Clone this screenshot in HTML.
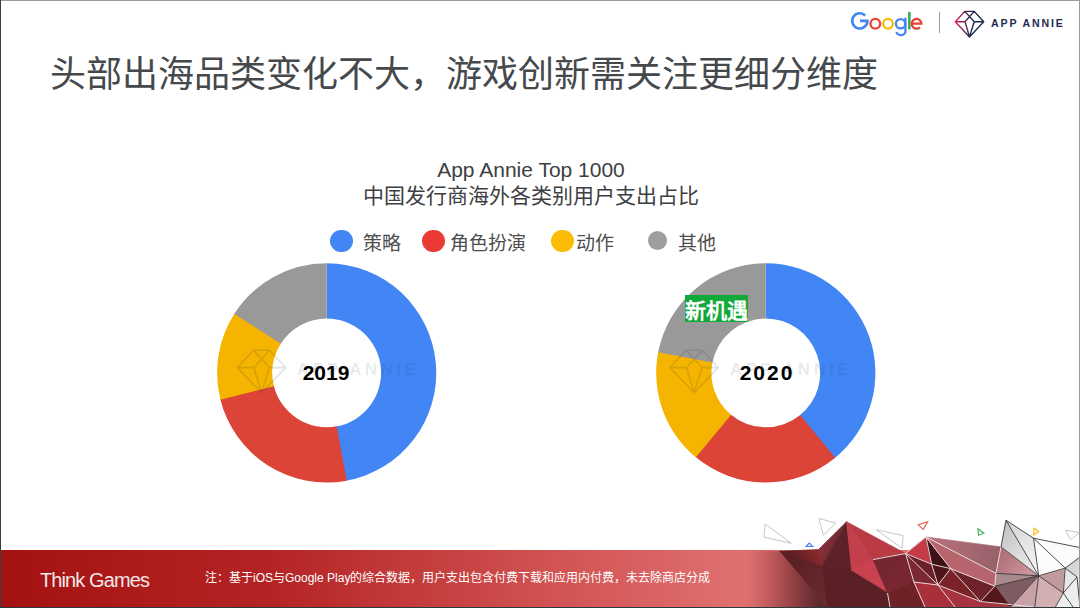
<!DOCTYPE html>
<html lang="zh-CN"><head><meta charset="utf-8">
<style>
*{margin:0;padding:0;box-sizing:border-box}
html,body{width:1080px;height:608px;overflow:hidden;background:#fff}
body{position:relative;font-family:"Liberation Sans",sans-serif}
.abs{position:absolute;white-space:nowrap}
#title{left:50px;top:52.5px;font-size:36px;color:#46494c;line-height:44px}
#ct1{left:0;width:1062px;top:158px;text-align:center;font-size:21px;color:#3c4043;line-height:24px}
#ct2{left:0;width:1062px;top:183px;text-align:center;font-size:21px;color:#3c4043;line-height:26px}
.dot{position:absolute;border-radius:50%}
.lg{position:absolute;font-family:"Liberation Serif",serif;font-size:19px;color:#4d4d4d;line-height:22px;top:233px}
.yr{position:absolute;font-weight:bold;font-size:21px;color:#000;line-height:24px;width:100px;text-align:center}
.wm{position:absolute;font-weight:bold;font-size:16.5px;letter-spacing:3.7px;color:rgba(30,40,70,0.11);line-height:20px}
#footer{position:absolute;left:0;top:550px;width:1080px;height:58px;background:linear-gradient(90deg,#a41111 0%,#b52424 25%,#d25454 52%,#e07070 68.5%,#e07070 100%)}
#tg{left:40px;top:568.3px;font-size:20px;color:#f3e6e6;line-height:24px;letter-spacing:-0.9px}
#note{left:205px;top:569.5px;font-size:12px;color:#fff;line-height:16px}
#gl{left:0;top:0}
#aa{left:991px;top:16.8px;font-size:10.6px;font-weight:bold;color:#1e2c50;letter-spacing:1.85px;line-height:12px}
</style></head><body>

<div id="title" class="abs">头部出海品类变化不大，游戏创新需关注更细分维度</div>

<svg class="abs" id="gl" width="1080" height="50">
<defs><linearGradient id="dg" x1="0" x2="1" y1="0" y2="0"><stop offset="0" stop-color="#ea1e63"/><stop offset="0.55" stop-color="#1e2a52"/><stop offset="1" stop-color="#1b2a4e"/></linearGradient></defs>
<path d="M865.2 15.5A7.6 7.6 0 1 0 867.4 20.9H860" fill="none" stroke="#4285f4" stroke-width="2.6"/>
<circle cx="875.3" cy="23.75" r="4.85" fill="none" stroke="#ea4335" stroke-width="2.3"/>
<circle cx="888" cy="23.75" r="4.85" fill="none" stroke="#fbbc05" stroke-width="2.3"/>
<circle cx="900.6" cy="23.75" r="4.7" fill="none" stroke="#4285f4" stroke-width="2.3"/>
<path d="M905.4 17.8V29.9A4.6 4.2 0 0 1 896.4 32" fill="none" stroke="#4285f4" stroke-width="2.3"/>
<rect x="908.1" y="11.9" width="2.5" height="17.5" fill="#34a853"/>
<path d="M911.9 23.6H921.4A4.85 4.85 0 1 0 919.9 27.3" fill="none" stroke="#ea4335" stroke-width="2.3"/>
<rect x="939" y="12" width="1" height="21" fill="#9a9a9a"/>
<path d="M964.76 11.40L974.24 11.40L983.70 21.80L969.50 36.90L955.30 21.80Z M955.30 21.80L965.04 21.80 M974.24 21.80L983.70 21.80 M964.76 11.40L974.24 21.80L969.50 36.90 M974.24 11.40L965.04 21.80L969.50 36.90" fill="none" stroke="url(#dg)" stroke-width="1.4" stroke-linejoin="round" />
</svg>
<div id="aa" class="abs">APP ANNIE</div>

<div id="ct1" class="abs">App Annie Top 1000</div>
<div id="ct2" class="abs">中国发行商海外各类别用户支出占比</div>

<div class="dot" style="left:330px;top:229.5px;width:22.5px;height:22.5px;background:#4285f4"></div>
<div class="lg" style="left:363px">策略</div>
<div class="dot" style="left:422px;top:229.5px;width:22.5px;height:22.5px;background:#ea3a36"></div>
<div class="lg" style="left:450px">角色扮演</div>
<div class="dot" style="left:551px;top:229.5px;width:22.5px;height:22.5px;background:#fbbc05"></div>
<div class="lg" style="left:576px">动作</div>
<div class="dot" style="left:648px;top:231px;width:19px;height:19px;background:#9e9e9e"></div>
<div class="lg" style="left:678px">其他</div>

<svg class="abs" style="left:0;top:0" width="1080" height="608">
<path d="M326.70 263.30A109.6 109.6 0 0 1 345.73 480.83L336.15 426.47A54.4 54.4 0 0 0 326.70 318.50Z" fill="#4285f4"/>
<path d="M346.86 480.63A109.6 109.6 0 0 1 220.17 398.67L273.83 385.69A54.4 54.4 0 0 0 336.71 426.37Z" fill="#db4437"/>
<path d="M220.45 399.79A109.6 109.6 0 0 1 234.89 313.05L281.13 343.19A54.4 54.4 0 0 0 273.96 386.24Z" fill="#f4b400"/>
<path d="M234.26 314.01A109.6 109.6 0 0 1 326.70 263.30L326.70 318.50A54.4 54.4 0 0 0 280.82 343.67Z" fill="#999999"/>
<path d="M765.80 263.30A109.6 109.6 0 0 1 834.33 458.44L799.81 415.36A54.4 54.4 0 0 0 765.80 318.50Z" fill="#4285f4"/>
<path d="M835.22 457.71A109.6 109.6 0 0 1 695.06 456.61L730.69 414.45A54.4 54.4 0 0 0 800.26 415.00Z" fill="#db4437"/>
<path d="M695.94 457.35A109.6 109.6 0 0 1 658.40 351.05L712.49 362.05A54.4 54.4 0 0 0 731.12 414.82Z" fill="#f4b400"/>
<path d="M658.18 352.18A109.6 109.6 0 0 1 765.80 263.30L765.80 318.50A54.4 54.4 0 0 0 712.38 362.61Z" fill="#999999"/>
<path d="M253.45 350.20L269.55 350.20L285.60 367.58L261.50 392.80L237.40 367.58Z M237.40 367.58L253.93 367.58 M269.55 367.58L285.60 367.58 M253.45 350.20L269.55 367.58L261.50 392.80 M269.55 350.20L253.93 367.58L261.50 392.80" fill="none" stroke="rgba(30,40,70,0.13)" stroke-width="1.6" stroke-linejoin="round" />
<path d="M686.05 350.20L702.15 350.20L718.20 367.58L694.10 392.80L670.00 367.58Z M670.00 367.58L686.53 367.58 M702.15 367.58L718.20 367.58 M686.05 350.20L702.15 367.58L694.10 392.80 M702.15 350.20L686.53 367.58L694.10 392.80" fill="none" stroke="rgba(30,40,70,0.13)" stroke-width="1.6" stroke-linejoin="round" />
</svg>
<div class="wm" style="left:297px;top:359px">APP ANNIE</div>
<div class="wm" style="left:730px;top:359px">APP ANNIE</div>

<div class="yr" style="left:276px;top:360.6px">2019</div>
<div class="yr" style="left:717px;top:360.6px;letter-spacing:2px">2020</div>

<div class="abs" style="left:685px;top:295px;width:63px;height:27px;background:#12a83a"></div>
<div class="abs" style="left:685px;top:298px;font-size:21px;font-weight:bold;color:#fff;line-height:26px">新机遇</div>

<div id="footer"></div>
<div id="tg" class="abs">Think Games</div>
<div id="note" class="abs">注：基于iOS与Google Play的综合数据，用户支出包含付费下载和应用内付费，未去除商店分成</div>

<svg class="abs" style="left:0;top:0" width="1080" height="608">
<defs>
<linearGradient id="gL" gradientUnits="userSpaceOnUse" x1="748" y1="0" x2="818" y2="0"><stop offset="0" stop-color="#e07070"/><stop offset="0.35" stop-color="#bc5858"/><stop offset="0.7" stop-color="#8a3c40"/><stop offset="1" stop-color="#5e2a2e"/></linearGradient>
<linearGradient id="gBC" gradientUnits="userSpaceOnUse" x1="815" y1="550" x2="795" y2="560"><stop offset="0" stop-color="#86282a"/><stop offset="1" stop-color="#5e2024"/></linearGradient>
<linearGradient id="gCD" gradientUnits="userSpaceOnUse" x1="822" y1="545" x2="846" y2="555"><stop offset="0" stop-color="#86303a"/><stop offset="1" stop-color="#5c2029"/></linearGradient>
<linearGradient id="gB" gradientUnits="userSpaceOnUse" x1="790" y1="560" x2="825" y2="600"><stop offset="0" stop-color="#5a2024"/><stop offset="1" stop-color="#6a2a2e"/></linearGradient>
<linearGradient id="gT" gradientUnits="userSpaceOnUse" x1="930" y1="540" x2="1000" y2="570"><stop offset="0" stop-color="#b8707a"/><stop offset="1" stop-color="#946068"/></linearGradient>
<linearGradient id="gQ" gradientUnits="userSpaceOnUse" x1="1000" y1="550" x2="1035" y2="575"><stop offset="0" stop-color="#b06c76"/><stop offset="1" stop-color="#d09aa0"/></linearGradient>
<linearGradient id="gG1" gradientUnits="userSpaceOnUse" x1="1000" y1="530" x2="1035" y2="570"><stop offset="0" stop-color="#c4c4c4"/><stop offset="1" stop-color="#ececec"/></linearGradient>
<linearGradient id="gG2" gradientUnits="userSpaceOnUse" x1="1010" y1="525" x2="1035" y2="570"><stop offset="0" stop-color="#d8d8d8"/><stop offset="1" stop-color="#f4f4f4"/></linearGradient>
</defs>
<polygon points="740.0,550.5 779.8,551.2 827.5,607.0 740.0,607.0" fill="url(#gL)" stroke="url(#gL)" stroke-width="0.7" stroke-linejoin="round"/>
<polygon points="779.8,551.2 818.4,549.6 822.2,566.5" fill="url(#gBC)" stroke="url(#gBC)" stroke-width="0.7" stroke-linejoin="round"/>
<polygon points="779.8,551.2 822.2,566.5 827.5,607.0" fill="url(#gB)" stroke="url(#gB)" stroke-width="0.7" stroke-linejoin="round"/>
<polygon points="818.4,549.6 846.6,521.8 822.2,566.5" fill="url(#gCD)" stroke="url(#gCD)" stroke-width="0.7" stroke-linejoin="round"/>
<polygon points="846.6,521.8 851.7,571.0 822.2,566.5" fill="#5c2227" stroke="#5c2227" stroke-width="0.7" stroke-linejoin="round"/>
<polygon points="846.6,521.8 873.0,559.6 851.7,571.0" fill="#c23f4b" stroke="#c23f4b" stroke-width="0.7" stroke-linejoin="round"/>
<polygon points="846.6,521.8 905.6,553.5 873.0,559.6" fill="#bb3b45" stroke="#bb3b45" stroke-width="0.7" stroke-linejoin="round"/>
<polygon points="851.7,571.0 873.0,559.6 887.5,593.0" fill="#c9424f" stroke="#c9424f" stroke-width="0.7" stroke-linejoin="round"/>
<polygon points="873.0,559.6 905.6,553.5 887.5,593.0" fill="#752630" stroke="#752630" stroke-width="0.7" stroke-linejoin="round"/>
<polygon points="822.2,566.5 851.7,571.0 887.5,593.0 890.0,607.0 827.5,607.0" fill="#5a2026" stroke="#5a2026" stroke-width="0.7" stroke-linejoin="round"/>
<polygon points="905.6,553.5 913.9,582.0 887.5,593.0" fill="#7a2630" stroke="#7a2630" stroke-width="0.7" stroke-linejoin="round"/>
<polygon points="887.5,593.0 913.9,582.0 925.0,607.0 890.0,607.0" fill="#6e2228" stroke="#6e2228" stroke-width="0.7" stroke-linejoin="round"/>
<polygon points="905.6,553.5 926.0,537.0 931.6,564.2" fill="#c43c48" stroke="#c43c48" stroke-width="0.7" stroke-linejoin="round"/>
<polygon points="926.0,537.0 950.6,568.6 931.6,564.2" fill="#3e1216" stroke="#3e1216" stroke-width="0.7" stroke-linejoin="round"/>
<polygon points="931.6,564.2 950.6,568.6 938.0,585.0" fill="#4e161b" stroke="#4e161b" stroke-width="0.7" stroke-linejoin="round"/>
<polygon points="905.6,553.5 931.6,564.2 938.0,585.0" fill="#6a2029" stroke="#6a2029" stroke-width="0.7" stroke-linejoin="round"/>
<polygon points="905.6,553.5 938.0,585.0 913.9,582.0" fill="#7c2830" stroke="#7c2830" stroke-width="0.7" stroke-linejoin="round"/>
<polygon points="913.9,582.0 938.0,585.0 955.0,607.0 925.0,607.0" fill="#a8303a" stroke="#a8303a" stroke-width="0.7" stroke-linejoin="round"/>
<polygon points="938.0,585.0 980.4,601.5 1034.7,607.0 955.0,607.0" fill="#a63440" stroke="#a63440" stroke-width="0.7" stroke-linejoin="round"/>
<polygon points="938.0,585.0 950.6,568.6 980.4,601.5" fill="#7a2228" stroke="#7a2228" stroke-width="0.7" stroke-linejoin="round"/>
<polygon points="950.6,568.6 994.8,586.2 980.4,601.5" fill="#6e2229" stroke="#6e2229" stroke-width="0.7" stroke-linejoin="round"/>
<polygon points="926.0,537.0 996.0,573.3 994.8,586.2 950.6,568.6" fill="#b8646c" stroke="#b8646c" stroke-width="0.7" stroke-linejoin="round"/>
<polygon points="926.0,537.0 1001.0,546.9 996.0,573.3" fill="url(#gT)" stroke="url(#gT)" stroke-width="0.7" stroke-linejoin="round"/>
<polygon points="1001.0,546.9 1038.7,575.8 996.0,573.3" fill="url(#gQ)" stroke="url(#gQ)" stroke-width="0.7" stroke-linejoin="round"/>
<polygon points="996.0,573.3 1038.7,575.8 994.8,586.2" fill="#a88a8c" stroke="#a88a8c" stroke-width="0.7" stroke-linejoin="round"/>
<polygon points="994.8,586.2 1038.7,575.8 1010.5,607.0" fill="#7e5c62" stroke="#7e5c62" stroke-width="0.7" stroke-linejoin="round"/>
<polygon points="980.4,601.5 994.8,586.2 1010.5,607.0 1034.7,607.0" fill="#55161c" stroke="#55161c" stroke-width="0.7" stroke-linejoin="round"/>
<polygon points="1010.5,607.0 1038.7,575.8 1034.7,607.0" fill="#c8a2a6" stroke="#c8a2a6" stroke-width="0.7" stroke-linejoin="round"/>
<polygon points="1038.7,575.8 1063.3,593.0 1055.4,607.0 1034.7,607.0" fill="#d2b0b2" stroke="#d2b0b2" stroke-width="0.7" stroke-linejoin="round"/>
<polygon points="1038.7,575.8 1065.2,568.1 1063.3,593.0" fill="#c09a9e" stroke="#c09a9e" stroke-width="0.7" stroke-linejoin="round"/>
<polygon points="1006.0,520.3 1001.0,546.9 1038.7,575.8" fill="url(#gG1)" stroke="url(#gG1)" stroke-width="0.7" stroke-linejoin="round"/>
<polygon points="1006.0,520.3 1033.5,538.2 1038.7,575.8" fill="url(#gG2)" stroke="url(#gG2)" stroke-width="0.7" stroke-linejoin="round"/>
<polygon points="1033.5,538.2 1080.0,547.6 1080.0,557.1 1065.2,568.1 1038.7,575.8" fill="#fbfbfb" stroke="#fbfbfb" stroke-width="0.7" stroke-linejoin="round"/>
<polygon points="1065.2,568.1 1080.0,557.1 1077.0,577.0" fill="#d6d6d6" stroke="#d6d6d6" stroke-width="0.7" stroke-linejoin="round"/>
<polygon points="1065.2,568.1 1077.0,577.0 1063.3,593.0" fill="#e6e6e6" stroke="#e6e6e6" stroke-width="0.7" stroke-linejoin="round"/>
<polygon points="1063.3,593.0 1077.0,577.0 1080.0,607.0 1073.0,607.0 1055.4,607.0" fill="#eeeeee" stroke="#eeeeee" stroke-width="0.7" stroke-linejoin="round"/>
<polygon points="1080.0,557.1 1080.0,607.0 1077.0,577.0" fill="#e2e2e2" stroke="#e2e2e2" stroke-width="0.7" stroke-linejoin="round"/>
<line x1="873" y1="559.6" x2="905.6" y2="553.5" stroke="#f0e8e8" stroke-width="0.9"/>
<line x1="905.6" y1="553.5" x2="913.9" y2="582" stroke="#f0e8e8" stroke-width="0.9"/>
<line x1="905.6" y1="553.5" x2="926" y2="537" stroke="#f0e8e8" stroke-width="0.9"/>
<line x1="905.6" y1="553.5" x2="931.6" y2="564.2" stroke="#f0e8e8" stroke-width="0.9"/>
<line x1="926" y1="537" x2="931.6" y2="564.2" stroke="#f0e8e8" stroke-width="0.9"/>
<line x1="926" y1="537" x2="950.6" y2="568.6" stroke="#f0e8e8" stroke-width="0.9"/>
<line x1="931.6" y1="564.2" x2="950.6" y2="568.6" stroke="#f0e8e8" stroke-width="0.9"/>
<line x1="931.6" y1="564.2" x2="938" y2="585" stroke="#f0e8e8" stroke-width="0.9"/>
<line x1="905.6" y1="553.5" x2="938" y2="585" stroke="#f0e8e8" stroke-width="0.9"/>
<line x1="913.9" y1="582" x2="938" y2="585" stroke="#f0e8e8" stroke-width="0.9"/>
<line x1="950.6" y1="568.6" x2="938" y2="585" stroke="#f0e8e8" stroke-width="0.9"/>
<line x1="938" y1="585" x2="980.4" y2="601.5" stroke="#f0e8e8" stroke-width="0.9"/>
<line x1="950.6" y1="568.6" x2="980.4" y2="601.5" stroke="#f0e8e8" stroke-width="0.9"/>
<line x1="926" y1="537" x2="996" y2="573.3" stroke="#f0e8e8" stroke-width="0.9"/>
<line x1="950.6" y1="568.6" x2="994.8" y2="586.2" stroke="#f0e8e8" stroke-width="0.9"/>
<line x1="994.8" y1="586.2" x2="980.4" y2="601.5" stroke="#f0e8e8" stroke-width="0.9"/>
<line x1="996" y1="573.3" x2="1001" y2="546.9" stroke="#f0e8e8" stroke-width="0.9"/>
<line x1="996" y1="573.3" x2="994.8" y2="586.2" stroke="#f0e8e8" stroke-width="0.9"/>
<line x1="887.5" y1="593" x2="890" y2="607" stroke="#f0e8e8" stroke-width="0.9"/>
<line x1="913.9" y1="582" x2="925" y2="607" stroke="#f0e8e8" stroke-width="0.9"/>
<line x1="938" y1="585" x2="955" y2="607" stroke="#f0e8e8" stroke-width="0.9"/>
<line x1="980.4" y1="601.5" x2="1034.7" y2="607" stroke="#f0e8e8" stroke-width="0.9"/>
<line x1="1033.5" y1="538.2" x2="1065.2" y2="568.1" stroke="#3a3a3a" stroke-width="0.9"/>
<line x1="1006" y1="520.3" x2="1001" y2="546.9" stroke="#3a3a3a" stroke-width="0.9"/>
<line x1="1006" y1="520.3" x2="1033.5" y2="538.2" stroke="#3a3a3a" stroke-width="0.9"/>
<line x1="1006" y1="520.3" x2="1038.7" y2="575.8" stroke="#3a3a3a" stroke-width="0.9"/>
<line x1="1033.5" y1="538.2" x2="1038.7" y2="575.8" stroke="#3a3a3a" stroke-width="0.9"/>
<line x1="1033.5" y1="538.2" x2="1080" y2="547.6" stroke="#3a3a3a" stroke-width="0.9"/>
<line x1="1038.7" y1="575.8" x2="1065.2" y2="568.1" stroke="#3a3a3a" stroke-width="0.9"/>
<line x1="1065.2" y1="568.1" x2="1080" y2="557.1" stroke="#3a3a3a" stroke-width="0.9"/>
<line x1="1065.2" y1="568.1" x2="1063.3" y2="593" stroke="#3a3a3a" stroke-width="0.9"/>
<line x1="1065.2" y1="568.1" x2="1077" y2="577" stroke="#3a3a3a" stroke-width="0.9"/>
<line x1="1063.3" y1="593" x2="1077" y2="577" stroke="#3a3a3a" stroke-width="0.9"/>
<line x1="1038.7" y1="575.8" x2="1063.3" y2="593" stroke="#3a3a3a" stroke-width="0.9"/>
<line x1="1001" y1="546.9" x2="1038.7" y2="575.8" stroke="#3a3a3a" stroke-width="0.9"/>
<line x1="996" y1="573.3" x2="1038.7" y2="575.8" stroke="#3a3a3a" stroke-width="0.9"/>
<line x1="994.8" y1="586.2" x2="1038.7" y2="575.8" stroke="#3a3a3a" stroke-width="0.9"/>
<line x1="1038.7" y1="575.8" x2="1010.5" y2="607" stroke="#3a3a3a" stroke-width="0.9"/>
<line x1="1038.7" y1="575.8" x2="1034.7" y2="607" stroke="#3a3a3a" stroke-width="0.9"/>
<line x1="1063.3" y1="593" x2="1055.4" y2="607" stroke="#3a3a3a" stroke-width="0.9"/>
<line x1="1063.3" y1="593" x2="1073" y2="607" stroke="#3a3a3a" stroke-width="0.9"/>
<line x1="1077" y1="577" x2="1080" y2="607" stroke="#3a3a3a" stroke-width="0.9"/>

<polygon points="765.2,524 764,537.2 791.2,543.3" fill="none" stroke="#c4c6ca" stroke-width="1"/>
<polygon points="818.9,518.4 835.6,523.1 823.4,535.2" fill="none" stroke="#c4c6ca" stroke-width="1"/>
<polygon points="876.2,529.8 903.1,535.5 902.2,548.3" fill="none" stroke="#c4c6ca" stroke-width="1"/>
<polygon points="809.3,543 806,546.4 812.8,546.4" fill="none" stroke="#4a86f0" stroke-width="1.1"/>
<polygon points="918.1,524.8 927.7,521.8 923.2,529.3" fill="none" stroke="#e85a50" stroke-width="1.1"/>
<polygon points="978,528.8 983.9,533.2 978.5,535.2" fill="none" stroke="#3cae5a" stroke-width="1.1"/>
<polygon points="1034,528.2 1038.7,531.5 1033.7,534.9" fill="none" stroke="#f4b400" stroke-width="1.1"/>
<polygon points="1065.6,530.2 1080,532.7 1070.6,539.4" fill="none" stroke="#c4c6ca" stroke-width="1"/>

</svg>

<div class="abs" style="left:0;top:0;width:1080px;height:1px;background:#9a9a9a"></div>
<div class="abs" style="left:0;top:0;width:1px;height:608px;background:#3a3f42"></div>
<div class="abs" style="left:1079px;top:0;width:1px;height:608px;background:#9a9a9a"></div>
<div class="abs" style="left:0;top:607px;width:1080px;height:1px;background:#2f3a3d"></div>
</body></html>
